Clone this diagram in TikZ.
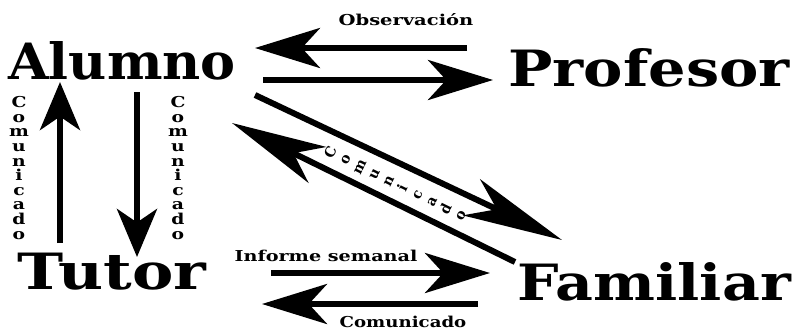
\documentclass[tikz,border=0pt]{standalone}
\usepackage{fontspec}
\setmainfont{DejaVu Serif}
\usetikzlibrary{arrows.meta}
\begin{document}
\begin{tikzpicture}[x=1pt,y=-1pt,
  role/.style={inner sep=0pt,anchor=base,font=\fontsize{50}{50}\selectfont\bfseries},
  tag/.style={inner sep=0pt,font=\fontsize{15}{15}\selectfont\bfseries},
  column/.style={inner sep=0pt,align=center,font=\fontsize{15}{14.6}\selectfont\bfseries},
  flow/.style={line width=6pt,-{Stealth[length=#1,width=40pt,inset=0.28*#1]}},
  flow/.default=65pt]
\useasboundingbox (0,0) rectangle (793,330);

% participants
\node[role,xscale=1.05] (alumno)   at (122,79)  {Alumno};
\node[role,xscale=1.18] (profesor) at (649,86)  {Profesor};
\node[role,xscale=1.24] (tutor)    at (112,289) {Tutor};
\node[role,xscale=1.17] (familiar) at (654,300) {Familiar};

% arrow end points
\coordinate (obsA) at (467,48);  \coordinate (obsB) at (255,48);
\coordinate (apA)  at (263,80);  \coordinate (apB)  at (493,80);
\coordinate (upA)  at (60,243);  \coordinate (upB)  at (60,82);
\coordinate (dnA)  at (137,92);  \coordinate (dnB)  at (137,257);
\coordinate (afA)  at (255,95);  \coordinate (afB)  at (562,240);
\coordinate (faA)  at (515,262); \coordinate (faB)  at (232,123);
\coordinate (infA) at (271,273); \coordinate (infB) at (490,273);
\coordinate (comA) at (478,304); \coordinate (comB) at (262,304);

% Alumno <-> Profesor
\draw[flow] (obsA) -- (obsB);
\draw[flow] (apA) -- (apB);
\node[tag,xscale=1.3] (obs) at (406,20) {Observación};

% Alumno <-> Tutor
\draw[flow=48pt] (upA) -- (upB);
\draw[flow=48pt] (dnA) -- (dnB);
\node[column,xscale=1.25] (c1) at (19,168) {C\\o\\m\\u\\n\\i\\c\\a\\d\\o};
\node[column,xscale=1.25] (c2) at (178,168) {C\\o\\m\\u\\n\\i\\c\\a\\d\\o};

% Alumno <-> Familiar
\draw[flow=100pt] (afA) -- (afB);
\draw[flow=95pt] (faA) -- (faB);
\node[column,rotate=64,font=\fontsize{14}{16}\selectfont\bfseries] (c3) at (395,184) {C\\o\\m\\u\\n\\i\\c\\a\\d\\o};

% Tutor <-> Familiar
\draw[flow] (infA) -- (infB);
\draw[flow] (comA) -- (comB);
\node[tag,xscale=1.28] (inf) at (326,256) {Informe semanal};
\node[tag,xscale=1.21] (com) at (403,322) {Comunicado};
\end{tikzpicture}
\end{document}
